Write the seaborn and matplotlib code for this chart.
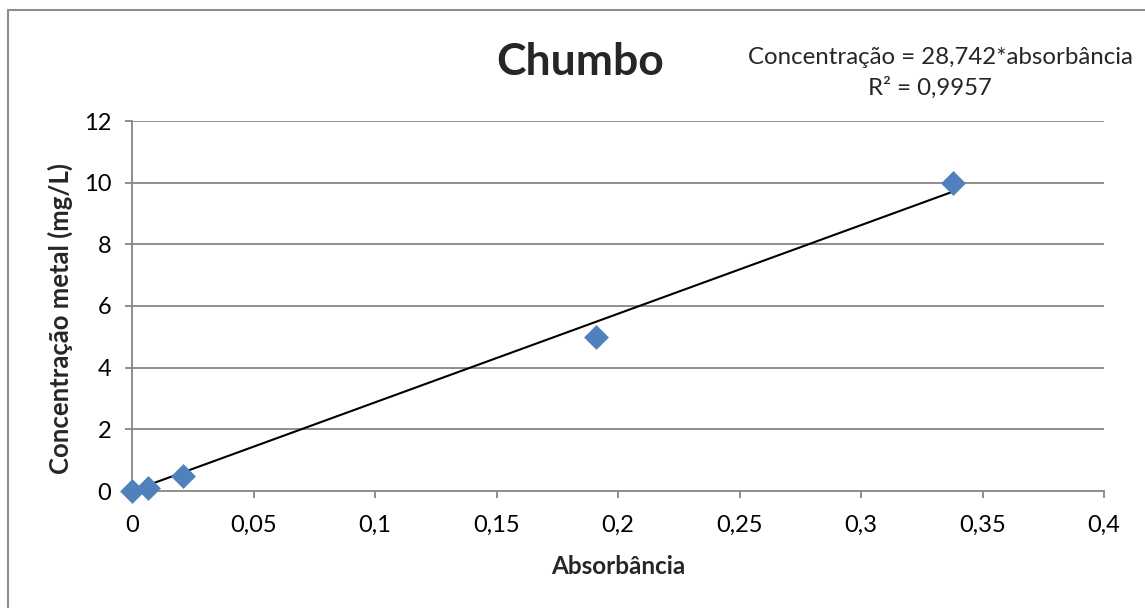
import matplotlib
matplotlib.use("Agg")
import matplotlib.pyplot as plt
import seaborn as sns
import pandas as pd
import numpy as np
from matplotlib.lines import Line2D

absorbancia = [0.0, 0.0066, 0.021, 0.191, 0.3378]
concentracao = [0.0, 0.1, 0.5, 5.0, 10.0]
slope = 28.742
r2_text = "R² = 0,9957"
eq_text = "Concentração = 28,742*absorbância"
title = "Chumbo"
x_ticks = [0, 0.05, 0.1, 0.15, 0.2, 0.25, 0.3, 0.35, 0.4]
x_tick_labels = ["0", "0,05", "0,1", "0,15", "0,2", "0,25", "0,3", "0,35", "0,4"]
y_ticks = [0, 2, 4, 6, 8, 10, 12]
y_tick_labels = ["0", "2", "4", "6", "8", "10", "12"]

sns.set_theme(style="white")
plt.rcParams['font.family'] = ['Lato', 'DejaVu Sans']

df = pd.DataFrame({"x": absorbancia, "y": concentracao})
trend = pd.DataFrame({"x": [0.0, max(absorbancia)]})
trend["y"] = trend["x"] * slope

W, H = 1145, 608
fig = plt.figure(figsize=(W/100, H/100), dpi=100)
ax = fig.add_axes([132/W, 117/H, (1104-132)/W, (491-121)/H])

grid_c = "#868686"
ax.set_ylim(0, 12)
ax.set_xlim(0, 0.4)
for yt in y_ticks[1:]:
    ax.axhline(yt, color=grid_c, lw=1.3, zorder=0)

sns.lineplot(data=trend, x="x", y="y", ax=ax, color="black", lw=1.5, zorder=2)
sns.scatterplot(data=df, x="x", y="y", ax=ax, marker="D", s=160, color="#4F81BD",
                edgecolor="#4F81BD", linewidth=0, zorder=3, clip_on=False)

ax.set_xticks(x_ticks)
ax.set_xticklabels(x_tick_labels, fontsize=17)
ax.set_yticks(y_ticks)
ax.set_yticklabels(y_tick_labels, fontsize=17)
ax.tick_params(axis="both", which="both", direction="out", length=5, width=1.3,
               color=grid_c, labelcolor="black", bottom=True, left=True)
ax.tick_params(axis="x", pad=12)
ax.tick_params(axis="y", pad=10)
for s in ["top", "right"]:
    ax.spines[s].set_visible(False)
for s in ["left", "bottom"]:
    ax.spines[s].set_color(grid_c)
    ax.spines[s].set_linewidth(1.3)

ax.set_xlabel("Absorbância", fontsize=17.5, fontweight="bold")
ax.set_ylabel("Concentração metal (mg/L)", fontsize=18.5, fontweight="bold")
ax.xaxis.set_label_coords((618-132)/(1104-132), -(566-491)/(491-121))
ax.yaxis.set_label_coords(-(132-60)/(1104-132), (491-318)/(491-121))
ax.xaxis.label.set_va("center")
ax.yaxis.label.set_va("center")

fig.text(580/W, 1 - 62/H, title, fontsize=32, fontweight="bold", ha="center", va="center")
fig.text(940/W, 1 - 58/H, eq_text, fontsize=17.3, ha="center", va="center")
fig.text(930/W, 1 - 88/H, r2_text, fontsize=17.3, ha="center", va="center")

border_c = "#8C8C8C"
fig.add_artist(Line2D([8/W, 1.0], [1 - 10/H, 1 - 10/H], color=border_c, lw=1.5, transform=fig.transFigure))
fig.add_artist(Line2D([8/W, 8/W], [1 - 10/H, 0.0], color=border_c, lw=1.5, transform=fig.transFigure))

fig.savefig("out.png", dpi=100, facecolor="white")
